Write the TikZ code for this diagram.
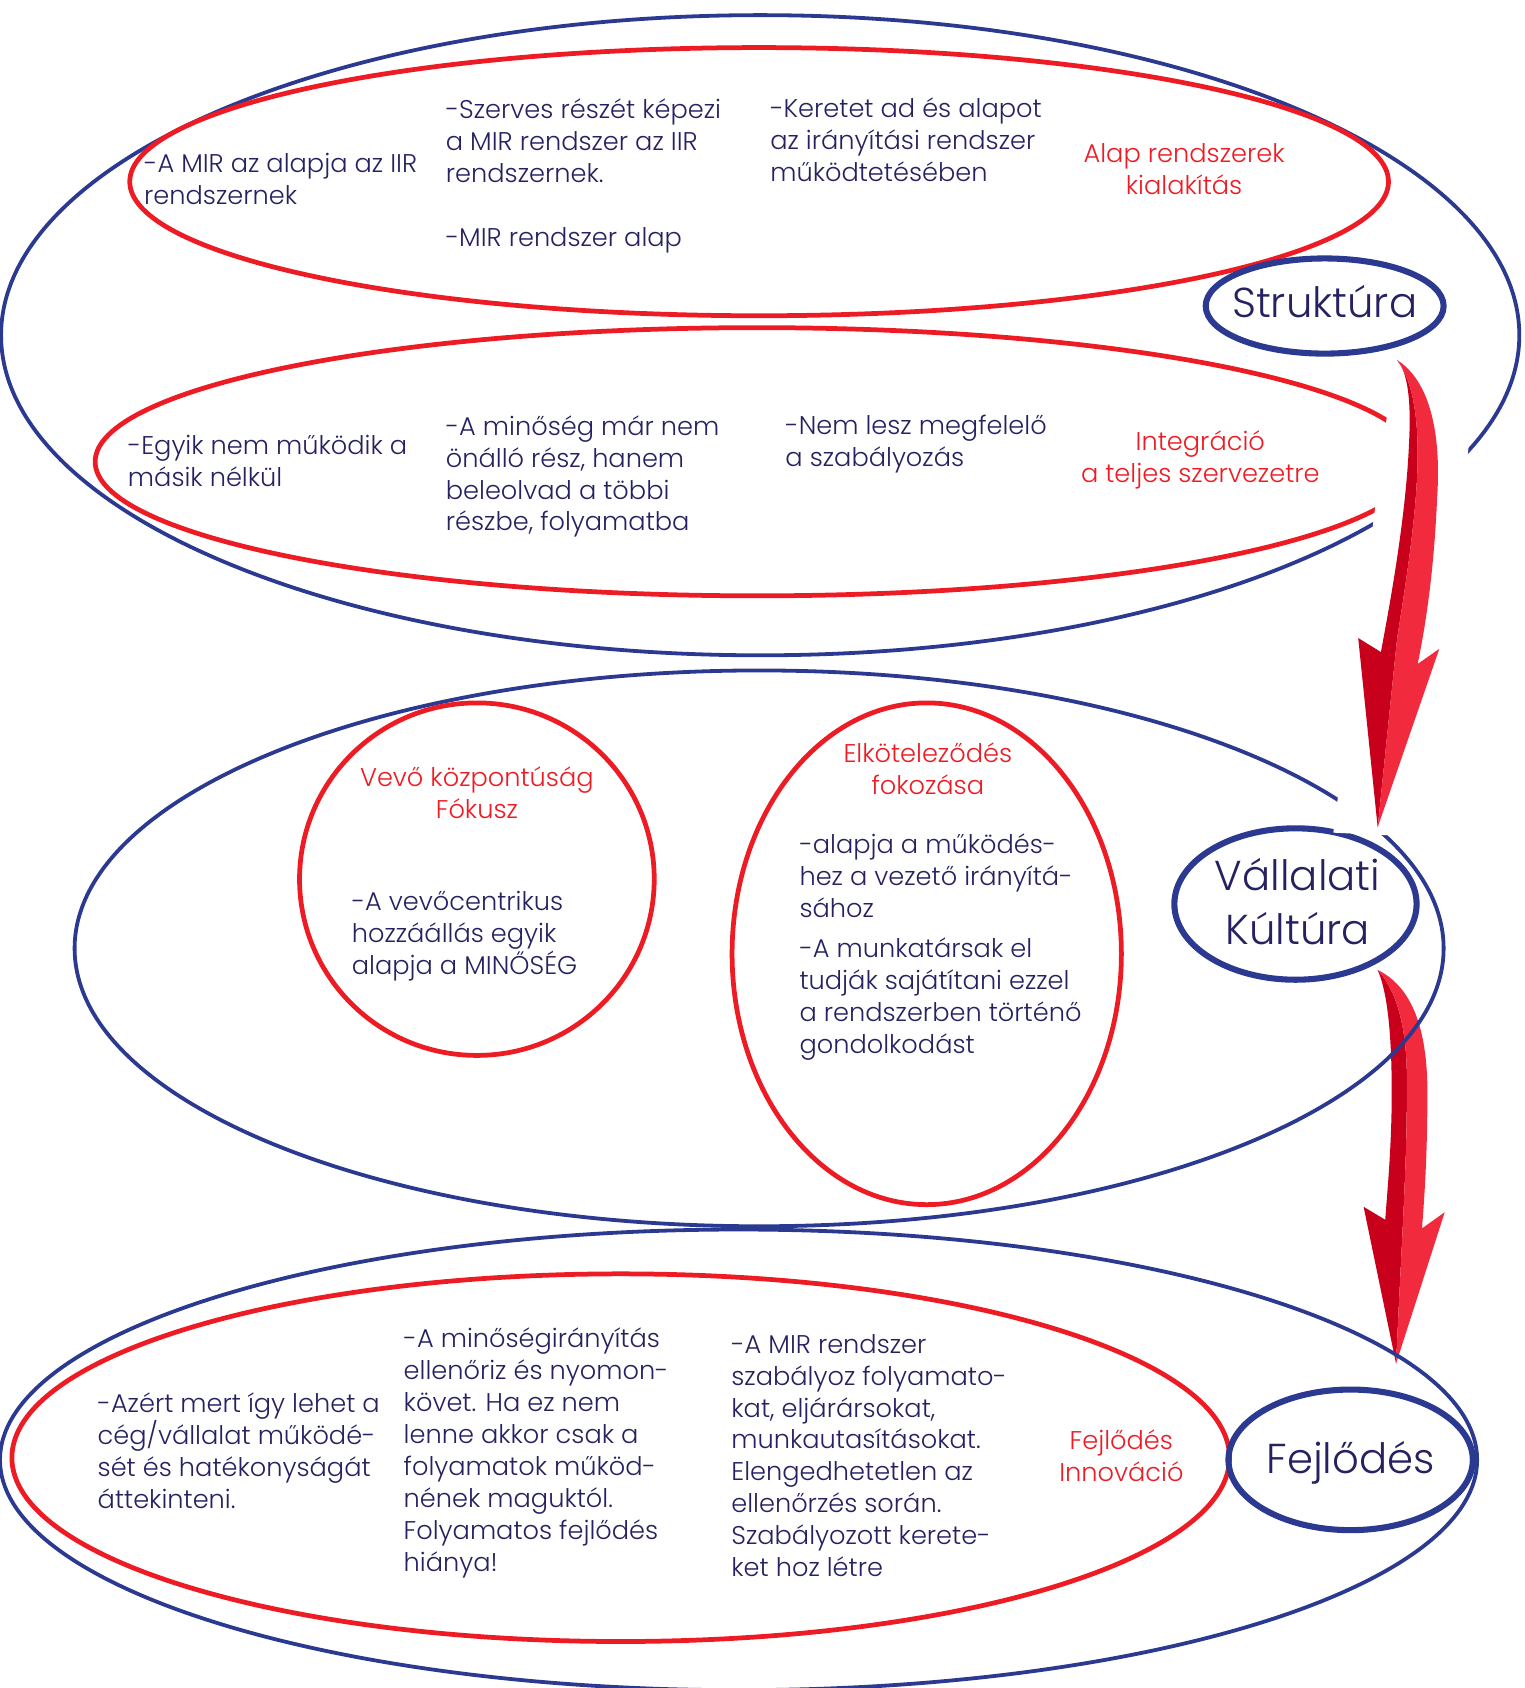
\documentclass[tikz,border=0pt]{standalone}
\usepackage{fontspec}
\setmainfont{Poppins}[UprightFont=* Light]
\RequirePackage{tikz}
\RequirePackage{tkz-euclide}
\definecolor{mirblue}{HTML}{2B3990}
\definecolor{mirred}{HTML}{ED1C24}
\definecolor{mirnavy}{HTML}{262262}
\definecolor{arrowdark}{HTML}{C8001C}
\definecolor{arrowlight}{HTML}{F22A3D}
\begin{document}
\begin{tikzpicture}[x=0.02cm,y=-0.02cm,
                    bluering/.style={draw=mirblue,line width=2pt},
                    redring/.style={draw=mirred,line width=2.5pt},
                    namering/.style={draw=mirblue,line width=3.2pt},
                    bodytext/.style={text=mirnavy,align=left,anchor=base west,inner sep=0pt,
                                     font=\fontsize{13.5}{16.8}\selectfont},
                    redtext/.style={text=mirred,align=center,anchor=base,inner sep=0pt,
                                    font=\fontsize{13.5}{16.8}\selectfont},
                    bigtext/.style={text=mirnavy,align=center,anchor=base,inner sep=0pt,
                                    font=\fontsize{22}{28.4}\selectfont}]
                    \useasboundingbox (0,0) rectangle (1410,1561);

                    \tkzDefPoint(703,310){S}
                    \tkzDefPoint(702,168){SA}
                    \tkzDefPoint(700,427){SB}
                    \tkzDefPoint(1225,283){SN}
                    \tkzDefPoint(702,877){K}
                    \tkzDefPoint(441,813){KA}
                    \tkzDefPoint(857,882){KB}
                    \tkzDefPoint(1198,836){KN}
                    \tkzDefPoint(683,1350){F}
                    \tkzDefPoint(574,1348){FA}
                    \tkzDefPoint(1249,1350){FN}

                    \tkzDefPoint(1292,333){TA}
                    \tkzDefPoint(1274,765){HA}
                    \tkzDefPoint(1274,897){TB}
                    \tkzDefPoint(1291,1261){HB}

                    \fill[arrowdark] (TB) .. controls (1282,915) and (1287,950) .. (1287,1010)
                        .. controls (1287,1060) and (1283,1100) .. (1281,1128) -- (1261,1116) -- (HB)
                        .. controls (1296,1150) and (1301,1080) .. (1301,1010)
                        .. controls (1302,960) and (1295,920) .. cycle;
                    \fill[arrowlight] (TB) .. controls (1305,912) and (1320,950) .. (1320,1010)
                        .. controls (1320,1070) and (1317,1110) .. (1315,1136) -- (1336,1121) -- (HB)
                        .. controls (1296,1150) and (1301,1080) .. (1301,1010)
                        .. controls (1302,960) and (1295,920) .. cycle;

                    \draw[bluering] (S) ellipse [x radius=702,y radius=296];
                    \draw[redring] (SA) ellipse [x radius=582,y radius=124];
                    \draw[redring] (SB) ellipse [x radius=612,y radius=124];
                    \draw[namering] (SN) ellipse [x radius=110,y radius=44];

                    \draw[bluering] (K) ellipse [x radius=633,y radius=257];
                    \draw[redring] (KA) ellipse [x radius=164,y radius=163];
                    \draw[redring] (KB) ellipse [x radius=180,y radius=232];
                    \draw[namering] (KN) ellipse [x radius=112,y radius=70];

                    \draw[bluering] (F) ellipse [x radius=683,y radius=213];
                    \draw[redring] (FA) ellipse [x radius=563,y radius=170];
                    \draw[namering] (FN) ellipse [x radius=113,y radius=65];

                    \fill[white] (1290,327) -- (1367,333) -- (1318,774) -- (1233,770) -- cycle;
                    \fill[arrowdark] (TA) .. controls (1302,345) and (1305,370) .. (1303,410)
                        .. controls (1300,480) and (1285,560) .. (1277,603) -- (1256,590) -- (HA)
                        -- (1292,590) .. controls (1300,540) and (1311,470) .. (1311,420)
                        .. controls (1311,380) and (1305,350) .. cycle;
                    \fill[arrowlight] (TA) .. controls (1322,352) and (1333,400) .. (1329,460)
                        .. controls (1326,530) and (1318,580) .. (1311,614) -- (1331,600) -- (HA)
                        -- (1292,590) .. controls (1300,540) and (1311,470) .. (1311,420)
                        .. controls (1311,380) and (1305,350) .. cycle;

                    \node[bodytext] (mirbase) at (133,189) {-A MIR az alapja az IIR\\rendszernek};
                    \node[bodytext] (szerves) at (412,228) {-Szerves részét képezi\\a MIR rendszer az IIR\\rendszernek.\\[16.8pt]-MIR rendszer alap};
                    \node[bodytext] (keretet) at (712,168) {-Keretet ad és alapot\\az irányítási rendszer\\működtetésében};
                    \node[redtext] (alaplabel) at (1095,180) {Alap rendszerek\\kialakítás};
                    \node[bodytext] (egyik) at (118,450) {-Egyik nem működik a\\másik nélkül};
                    \node[bodytext] (beolvad) at (412,491) {-A minőség már nem\\önálló rész, hanem\\beleolvad a többi\\részbe, folyamatba};
                    \node[bodytext] (nemlesz) at (726,431) {-Nem lesz megfelelő\\a szabályozás};
                    \node[redtext] (integlabel) at (1110,446) {Integráció\\a teljes szervezetre};
                    \node[bigtext] (struktura) at (1225,294) {Struktúra};

                    \node[redtext] (vevolabel) at (441,757) {Vevő központúság\\Fókusz};
                    \node[bodytext] (vevotext) at (325,901) {-A vevőcentrikus\\hozzáállás egyik\\alapja a MINŐSÉG};
                    \node[redtext] (elkotlabel) at (858,735) {Elköteleződés\\fokozása};
                    \node[bodytext] (alapjatext) at (739,848) {-alapja a működés-\\hez a vezető irányítá-\\sához};
                    \node[bodytext] (munkatext) at (739,974) {-A munkatársak el\\tudják sajátítani ezzel\\a rendszerben történő\\gondolkodást};
                    \node[bigtext] (kultura) at (1200,873) {Vállalati\\Kúltúra};

                    \node[bodytext] (azert) at (90,1395) {-Azért mert így lehet a\\cég/vállalat működé-\\sét és hatékonyságát\\áttekinteni.};
                    \node[bodytext] (ellenoriz) at (373,1453) {-A minőségirányítás\\ellenőriz és nyomon-\\követ. Ha ez nem\\lenne akkor csak a\\folyamatok működ-\\nének maguktól.\\Folyamatos fejlődés\\hiánya!};
                    \node[bodytext] (szabalyoz) at (676,1458) {-A MIR rendszer\\szabályoz folyamato-\\kat, eljárársokat,\\munkautasításokat.\\Elengedhetetlen az\\ellenőrzés során.\\Szabályozott kerete-\\ket hoz létre};
                    \node[redtext] (fejllabel) at (1037,1370) {Fejlődés\\Innováció};
                    \node[bigtext] (fejlodes) at (1249,1363) {Fejlődés};
                \end{tikzpicture}
\end{document}
